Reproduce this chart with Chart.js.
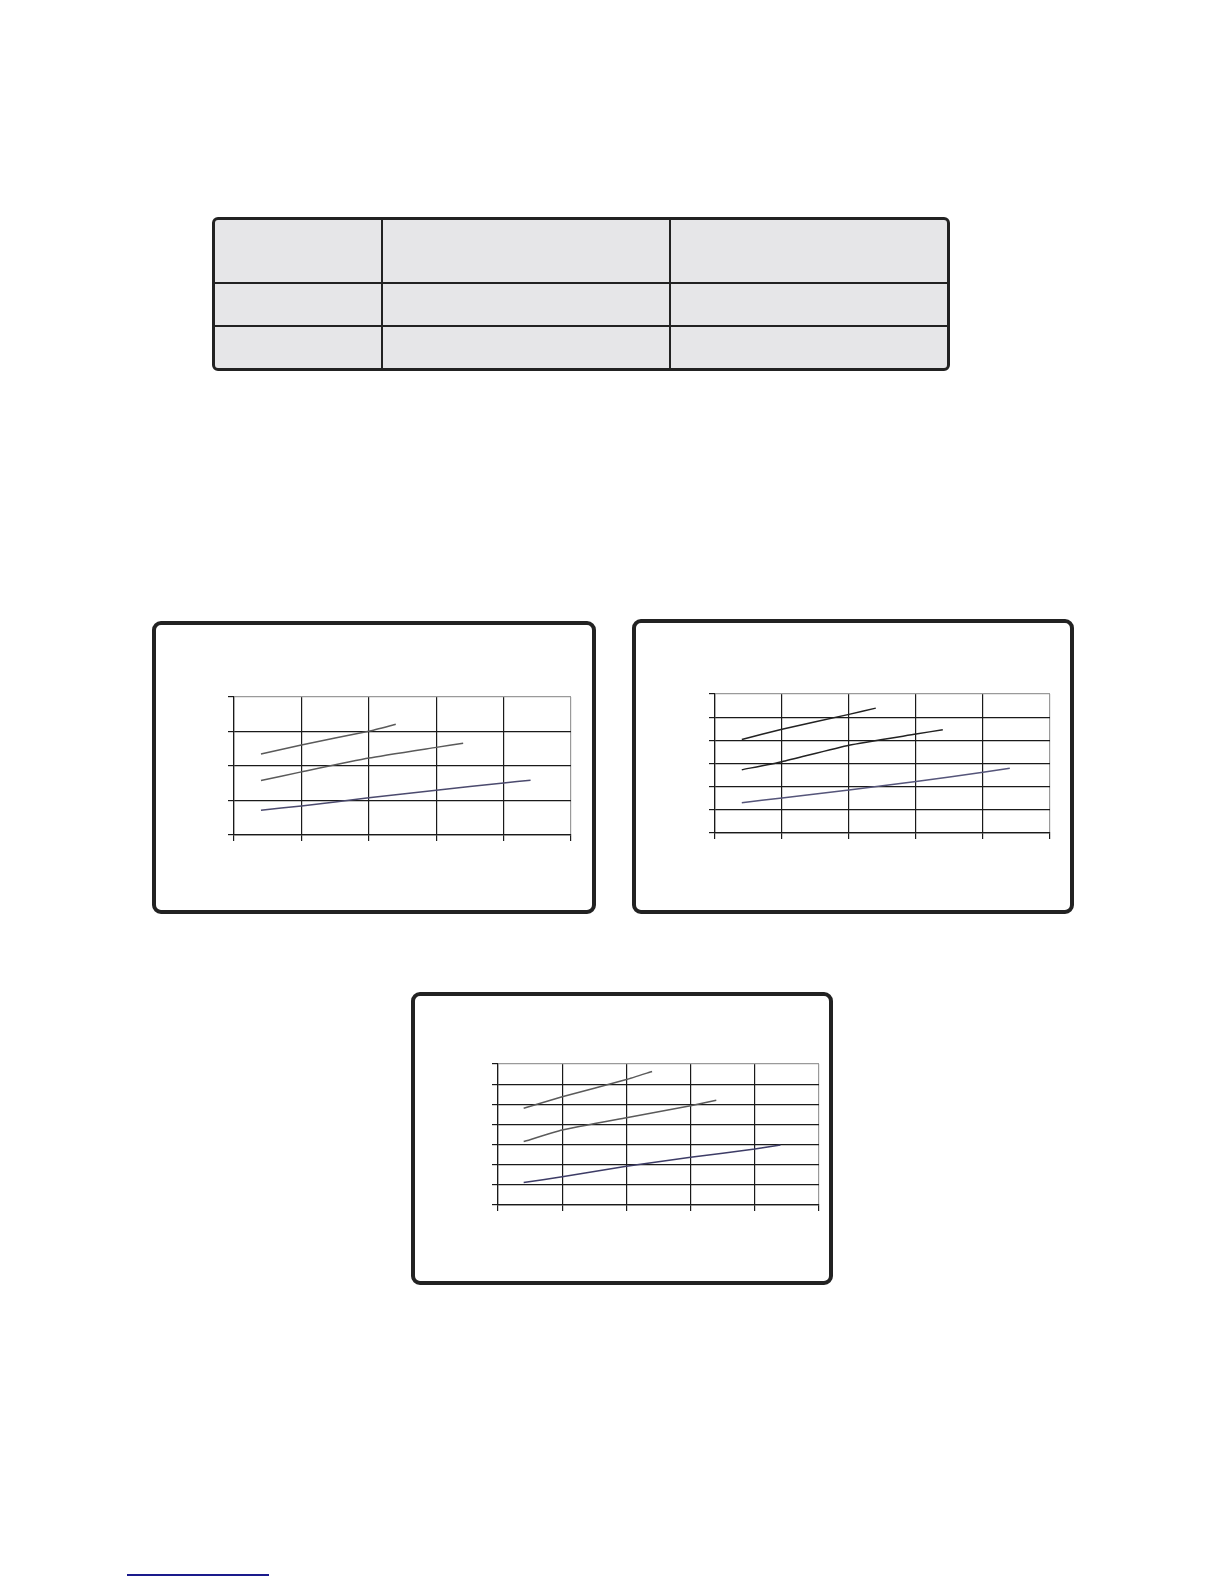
<!DOCTYPE html>
<html>
<head>
<meta charset="utf-8">
<script src="https://cdn.jsdelivr.net/npm/chart.js@4.4.1/dist/chart.umd.min.js"></script>
<style>
body { margin:0; background:#fff; width:1224px; height:1584px; position:relative; overflow:hidden; font-family:"Liberation Sans", Arial, sans-serif; }
.box { position:absolute; border:4px solid #222; border-radius:9px; box-sizing:border-box; background:#fff; }
.cv { position:absolute; }
.tbl { position:absolute; left:212px; top:217px; width:738px; height:154px; background:#e6e6e8; border:3px solid #222; border-radius:6px; box-sizing:border-box; }
.vl { position:absolute; top:0; bottom:0; width:2px; background:#222; }
.hl { position:absolute; left:0; right:0; height:2px; background:#222; }
.link { position:absolute; left:127px; top:1574px; width:142px; height:2px; background:#1a1a8c; }
</style>
</head>
<body>
<div class="tbl">
  <div class="vl" style="left:166px"></div>
  <div class="vl" style="left:454px"></div>
  <div class="hl" style="top:62px"></div>
  <div class="hl" style="top:105px"></div>
</div>

<div class="box" style="left:152px;top:621px;width:444px;height:293px"></div>
<div class="box" style="left:632px;top:619px;width:442px;height:295px"></div>
<div class="box" style="left:411px;top:992px;width:422px;height:293px"></div>

<canvas id="c1" class="cv"></canvas>
<canvas id="c2" class="cv"></canvas>
<canvas id="c3" class="cv"></canvas>

<div class="link"></div>

<script>
// x positions of the three curves (same for every chart)
const xA = [0.4, 1, 2, 2.4];
const xB = [0.4, 1, 2, 3, 3.4];
const xC = [0.4, 1, 2, 3, 4, 4.4];

// chart 1 (y 0..4)
const c1A = [2.35, 2.61, 3.01, 3.21];
const c1B = [1.58, 1.83, 2.23, 2.54, 2.66];
const c1C = [0.72, 0.84, 1.08, 1.30, 1.51, 1.59];

// chart 2 (y 0..6)
const c2A = [4.04, 4.48, 5.12, 5.39];
const c2B = [2.73, 3.08, 3.79, 4.27, 4.46];
const c2C = [1.31, 1.51, 1.86, 2.22, 2.62, 2.79];

// chart 3 (y 0..7)
const c3A = [4.80, 5.37, 6.23, 6.63];
const c3B = [3.15, 3.72, 4.33, 4.93, 5.20];
const c3C = [1.12, 1.40, 1.92, 2.37, 2.78, 2.98];

const xMax = 5;

function pts(xs, ys) {
  return xs.map((x, i) => ({ x: x, y: ys[i] }))
}

function makeChart(id, plot, yMax, series, colors) {
  const cv = document.getElementById(id)
  const padL = 2, padT = 4, padR = 4, padB = 2, tick = 6
  const left = plot.l - padL - tick, top = plot.t - padT
  const w = plot.r - plot.l + padL + tick + padR
  const h = plot.b - plot.t + padT + tick + padB
  cv.style.left = left + 'px'
  cv.style.top = top + 'px'
  cv.style.width = w + 'px'
  cv.style.height = h + 'px'
  cv.width = w
  cv.height = h

  const grid = (max) => ({
    color: (c) => (c.tick && c.tick.value === max) ? '#9a9a9a' : '#1a1a1a',
    tickColor: '#1a1a1a',
    tickLength: tick,
    lineWidth: 1.2
  })

  return new Chart(cv, {
    type: 'scatter',
    data: {
      datasets: series.map((s, i) => ({
        data: s,
        showLine: true,
        borderColor: colors[i],
        borderWidth: 1.5,
        pointRadius: 0,
        tension: 0.15,
        fill: false
      }))
    },
    options: {
      responsive: false,
      animation: false,
      devicePixelRatio: 1,
      layout: { padding: { left: padL, top: padT, right: padR, bottom: padB } },
      plugins: { legend: { display: false }, tooltip: { enabled: false } },
      scales: {
        x: {
          type: 'linear', min: 0, max: xMax,
          ticks: { stepSize: 1, display: false },
          grid: grid(xMax),
          border: { color: '#1a1a1a', width: 1.2 }
        },
        y: {
          type: 'linear', min: 0, max: yMax,
          ticks: { stepSize: 1, display: false },
          grid: grid(yMax),
          border: { color: '#1a1a1a', width: 1.2 }
        }
      }
    }
  })
}

makeChart('c1', { l: 234, r: 571, t: 697, b: 835 }, 4,
  [pts(xA, c1A), pts(xB, c1B), pts(xC, c1C)],
  ['#5a5a5a', '#5a5a5a', '#4b4a6e'])

makeChart('c2', { l: 715, r: 1050, t: 694, b: 833 }, 6,
  [pts(xA, c2A), pts(xB, c2B), pts(xC, c2C)],
  ['#222222', '#222222', '#55557a'])

makeChart('c3', { l: 498, r: 819, t: 1064, b: 1205 }, 7,
  [pts(xA, c3A), pts(xB, c3B), pts(xC, c3C)],
  ['#5a5a5a', '#5a5a5a', '#3d3c66'])
</script>
</body>
</html>
